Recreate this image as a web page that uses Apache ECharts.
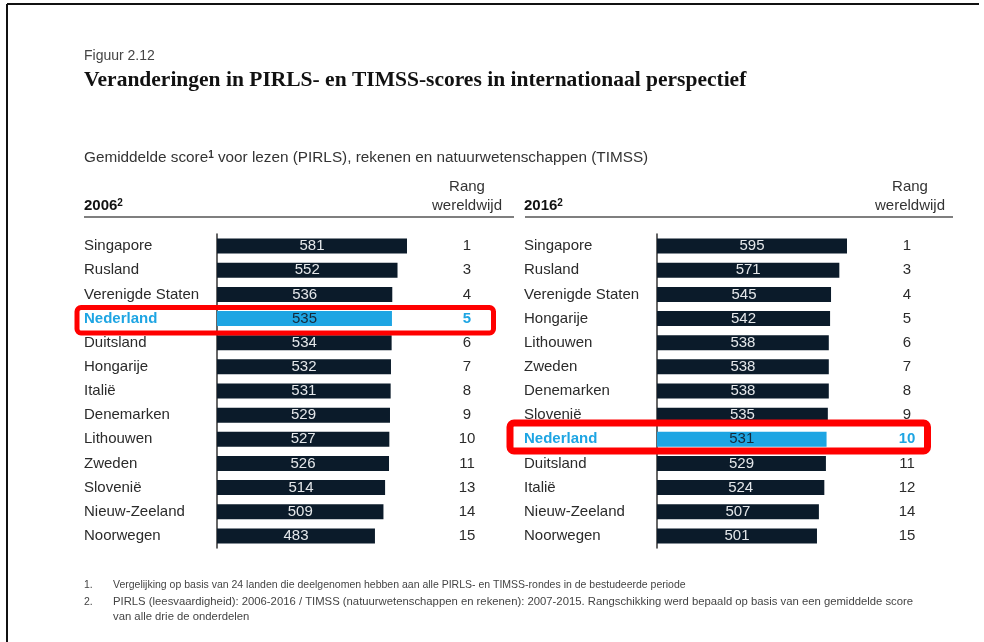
<!DOCTYPE html>
<html>
<head>
<meta charset="utf-8">
<script src="https://cdn.jsdelivr.net/npm/echarts@6/dist/echarts.min.js"></script>
<style>
  html, body { margin: 0; padding: 0; background: #fff; }
  #main { width: 984px; height: 642px; }
</style>
</head>
<body>
<div id="main"></div>
<script>
// data
var countries2006 = ['Singapore', 'Rusland', 'Verenigde Staten', 'Nederland', 'Duitsland', 'Hongarije', 'Italië', 'Denemarken', 'Lithouwen', 'Zweden', 'Slovenië', 'Nieuw-Zeeland', 'Noorwegen'];
var scores2006 = [581, 552, 536, 535, 534, 532, 531, 529, 527, 526, 514, 509, 483];
var ranks2006 = [1, 3, 4, 5, 6, 7, 8, 9, 10, 11, 13, 14, 15];

var countries2016 = ['Singapore', 'Rusland', 'Verenigde Staten', 'Hongarije', 'Lithouwen', 'Zweden', 'Denemarken', 'Slovenië', 'Nederland', 'Duitsland', 'Italië', 'Nieuw-Zeeland', 'Noorwegen'];
var scores2016 = [595, 571, 545, 542, 538, 538, 538, 535, 531, 529, 524, 507, 501];
var ranks2016 = [1, 3, 4, 5, 6, 7, 8, 9, 10, 11, 12, 14, 15];

var highlight = 'Nederland';
var FONT = '"Liberation Sans", Arial, sans-serif';
var NAVY = '#0b1b2a';
var BLUE = '#1ea5e3';

var chart = echarts.init(document.getElementById('main'));

function barData(countries, scores) {
  return scores.map(function (v, i) {
    var hl = countries[i] === highlight;
    return {
      value: v,
      itemStyle: { color: hl ? BLUE : NAVY },
      label: { color: hl ? '#15293a' : '#e4e7ea' }
    };
  });
}

function catLabel(countries) {
  return {
    align: 'left', margin: 133, fontFamily: FONT, fontSize: 15, color: '#2b2b2b',
    formatter: function (v) { return v === highlight ? '{h|' + v + '}' : v; },
    rich: { h: { fontFamily: FONT, fontSize: 15, fontWeight: 'bold', color: BLUE } }
  };
}

function rankLabel(countries) {
  return {
    align: 'center', margin: 60, fontFamily: FONT, fontSize: 15, color: '#2b2b2b',
    formatter: function (v, i) { return countries[i] === highlight ? '{h|' + v + '}' : v; },
    rich: { h: { fontFamily: FONT, fontSize: 15, fontWeight: 'bold', color: BLUE } }
  };
}

var grids = [
  { left: 217, top: 234, width: 190, height: 314 },
  { left: 657, top: 234, width: 190, height: 314 }
];

var noteStyle = { fontFamily: FONT, fontSize: 10.5, fontWeight: 'normal', color: '#444', lineHeight: 15 };
var noteStyle2 = { fontFamily: FONT, fontSize: 11.3, fontWeight: 'normal', color: '#444', lineHeight: 15 };

chart.setOption({
  backgroundColor: '#fff',
  animation: false,
  title: [
    { text: 'Figuur 2.12', left: 84, top: 49, padding: 0,
      textStyle: { fontFamily: FONT, fontSize: 14, fontWeight: 'normal', color: '#444' } },
    { text: 'Veranderingen in PIRLS- en TIMSS-scores in internationaal perspectief', left: 84, top: 69, padding: 0,
      textStyle: { fontFamily: '"Liberation Serif", "DejaVu Serif", serif', fontSize: 21.5, fontWeight: 'bold', color: '#111' } },
    { text: 'Gemiddelde score{s|1} voor lezen (PIRLS), rekenen en natuurwetenschappen (TIMSS)', left: 84, top: 150, padding: 0,
      textStyle: { fontFamily: FONT, fontSize: 15.3, fontWeight: 'normal', color: '#333',
        rich: { s: { fontFamily: FONT, fontSize: 10, fontWeight: 'bold', color: '#333', padding: [0, 0, 6, 0] } } } },
    { text: '2006{s|2}', left: 84, top: 198, padding: 0,
      textStyle: { fontFamily: FONT, fontSize: 15, fontWeight: 'bold', color: '#111',
        rich: { s: { fontFamily: FONT, fontSize: 10, fontWeight: 'bold', color: '#111', padding: [0, 0, 6, 0] } } } },
    { text: '2016{s|2}', left: 524, top: 198, padding: 0,
      textStyle: { fontFamily: FONT, fontSize: 15, fontWeight: 'bold', color: '#111',
        rich: { s: { fontFamily: FONT, fontSize: 10, fontWeight: 'bold', color: '#111', padding: [0, 0, 6, 0] } } } },
    { text: 'Rang\nwereldwijd', left: 467, top: 177, textAlign: 'center', padding: 0,
      textStyle: { fontFamily: FONT, fontSize: 15, fontWeight: 'normal', color: '#333', lineHeight: 19, align: 'center' } },
    { text: 'Rang\nwereldwijd', left: 910, top: 177, textAlign: 'center', padding: 0,
      textStyle: { fontFamily: FONT, fontSize: 15, fontWeight: 'normal', color: '#333', lineHeight: 19, align: 'center' } },
    // footnotes
    { text: '1.', left: 84, top: 578, padding: 0, textStyle: noteStyle },
    { text: 'Vergelijking op basis van 24 landen die deelgenomen hebben aan alle PIRLS- en TIMSS-rondes in de bestudeerde periode',
      left: 113, top: 578, padding: 0, textStyle: noteStyle },
    { text: '2.', left: 84, top: 595, padding: 0, textStyle: noteStyle },
    { text: 'PIRLS (leesvaardigheid): 2006-2016 / TIMSS (natuurwetenschappen en rekenen): 2007-2015. Rangschikking werd bepaald op basis van een gemiddelde score\n' +
            'van alle drie de onderdelen', left: 113, top: 594, padding: 0, textStyle: noteStyle2 }
  ],
  grid: grids,
  xAxis: [
    { gridIndex: 0, type: 'value', min: 0, max: 'dataMax', show: false },
    { gridIndex: 1, type: 'value', min: 0, max: 'dataMax', show: false }
  ],
  yAxis: [
    { gridIndex: 0, type: 'category', inverse: true, data: countries2006, position: 'left',
      axisLine: { lineStyle: { color: '#333', width: 1.5 } }, axisTick: { show: false }, axisLabel: catLabel(countries2006) },
    { gridIndex: 0, type: 'category', inverse: true, data: ranks2006, position: 'right',
      axisLine: { show: false }, axisTick: { show: false }, axisLabel: rankLabel(countries2006) },
    { gridIndex: 1, type: 'category', inverse: true, data: countries2016, position: 'left',
      axisLine: { lineStyle: { color: '#333', width: 1.5 } }, axisTick: { show: false }, axisLabel: catLabel(countries2016) },
    { gridIndex: 1, type: 'category', inverse: true, data: ranks2016, position: 'right',
      axisLine: { show: false }, axisTick: { show: false }, axisLabel: rankLabel(countries2016) }
  ],
  series: [
    { name: '2006', type: 'bar', xAxisIndex: 0, yAxisIndex: 0, barWidth: 15,
      data: barData(countries2006, scores2006),
      label: { show: true, position: 'inside', fontFamily: FONT, fontSize: 15 } },
    { name: '2016', type: 'bar', xAxisIndex: 1, yAxisIndex: 2, barWidth: 15,
      data: barData(countries2016, scores2016),
      label: { show: true, position: 'inside', fontFamily: FONT, fontSize: 15 } }
  ],
  graphic: [
    // frame
    { type: 'line', shape: { x1: 7, y1: 4, x2: 7, y2: 642 }, style: { stroke: '#111', lineWidth: 2 } },
    { type: 'line', shape: { x1: 7, y1: 4, x2: 979, y2: 4 }, style: { stroke: '#111', lineWidth: 2 } },
    // header rules
    { type: 'line', shape: { x1: 84, y1: 217, x2: 514, y2: 217 }, style: { stroke: '#555', lineWidth: 1.5 } },
    { type: 'line', shape: { x1: 525, y1: 217, x2: 953, y2: 217 }, style: { stroke: '#555', lineWidth: 1.5 } },
    // red highlight boxes
    { type: 'rect', z: 10, shape: { x: 77, y: 307.5, width: 416.5, height: 25.5, r: 4 },
      style: { fill: null, stroke: '#ff0000', lineWidth: 5 } },
    { type: 'rect', z: 10, shape: { x: 510, y: 423, width: 417.5, height: 28, r: 4 },
      style: { fill: null, stroke: '#ff0000', lineWidth: 7 } }
  ]
});
</script>
</body>
</html>
